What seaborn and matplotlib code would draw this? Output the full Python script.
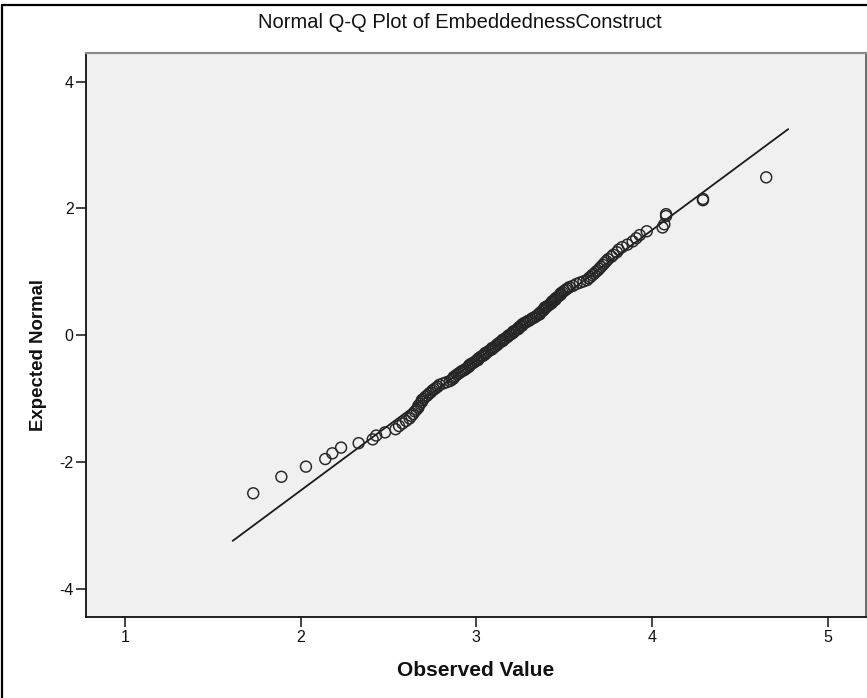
import matplotlib
matplotlib.use("Agg")
import matplotlib.pyplot as plt
import pandas as pd
import seaborn as sns
from matplotlib import font_manager
from matplotlib.lines import Line2D

# ---- data ----
title_text = "Normal Q-Q Plot of EmbeddednessConstruct"
x_label = "Observed Value"
y_label = "Expected Normal"
x_ticks = [1, 2, 3, 4, 5]
y_ticks = [-4, -2, 0, 2, 4]

observed = [
    1.73, 1.89, 2.03, 2.14, 2.18, 2.23, 2.33, 2.41, 2.43, 2.48,
    2.54, 2.56, 2.58, 2.60, 2.62, 2.63, 2.64, 2.65, 2.66, 2.67,
    2.67, 2.68, 2.69, 2.69, 2.70, 2.71, 2.72, 2.73, 2.74, 2.75,
    2.76, 2.77, 2.78, 2.79, 2.81, 2.83, 2.85, 2.86, 2.87, 2.87,
    2.88, 2.89, 2.90, 2.91, 2.92, 2.93, 2.94, 2.95, 2.96, 2.96,
    2.97, 2.98, 2.99, 3.00, 3.01, 3.01, 3.02, 3.03, 3.04, 3.05,
    3.05, 3.06, 3.07, 3.08, 3.09, 3.09, 3.10, 3.11, 3.12, 3.12,
    3.13, 3.14, 3.15, 3.15, 3.16, 3.17, 3.18, 3.18, 3.19, 3.20,
    3.21, 3.21, 3.22, 3.23, 3.24, 3.24, 3.25, 3.26, 3.26, 3.27,
    3.28, 3.29, 3.30, 3.31, 3.32, 3.33, 3.34, 3.35, 3.36, 3.36,
    3.37, 3.38, 3.38, 3.39, 3.39, 3.40, 3.41, 3.42, 3.43, 3.43,
    3.44, 3.45, 3.45, 3.46, 3.47, 3.48, 3.48, 3.49, 3.50, 3.51,
    3.52, 3.53, 3.55, 3.57, 3.59, 3.61, 3.63, 3.64, 3.65, 3.66,
    3.67, 3.68, 3.69, 3.70, 3.71, 3.72, 3.73, 3.74, 3.75, 3.77,
    3.78, 3.80, 3.81, 3.83, 3.86, 3.89, 3.91, 3.93, 3.97, 4.06,
    4.07, 4.08, 4.08, 4.29, 4.29, 4.65,
]

expected = [
    -2.49, -2.23, -2.07, -1.95, -1.86, -1.77, -1.70, -1.64, -1.58, -1.53,
    -1.48, -1.43, -1.39, -1.35, -1.31, -1.27, -1.24, -1.20, -1.17, -1.14,
    -1.11, -1.08, -1.05, -1.02, -1.00, -0.97, -0.95, -0.92, -0.90, -0.87,
    -0.85, -0.83, -0.81, -0.78, -0.76, -0.74, -0.72, -0.70, -0.68, -0.66,
    -0.64, -0.62, -0.60, -0.58, -0.56, -0.55, -0.53, -0.51, -0.49, -0.47,
    -0.45, -0.44, -0.42, -0.40, -0.39, -0.37, -0.35, -0.33, -0.32, -0.30,
    -0.28, -0.27, -0.25, -0.23, -0.22, -0.20, -0.19, -0.17, -0.15, -0.14,
    -0.12, -0.10, -0.09, -0.07, -0.06, -0.04, -0.02, -0.01, 0.01, 0.02,
    0.04, 0.06, 0.07, 0.09, 0.10, 0.12, 0.14, 0.15, 0.17, 0.19,
    0.20, 0.22, 0.23, 0.25, 0.27, 0.28, 0.30, 0.32, 0.33, 0.35,
    0.37, 0.39, 0.40, 0.42, 0.44, 0.45, 0.47, 0.49, 0.51, 0.53,
    0.55, 0.56, 0.58, 0.60, 0.62, 0.64, 0.66, 0.68, 0.70, 0.72,
    0.74, 0.76, 0.78, 0.81, 0.83, 0.85, 0.87, 0.90, 0.92, 0.95,
    0.97, 1.00, 1.02, 1.05, 1.08, 1.11, 1.14, 1.17, 1.20, 1.24,
    1.27, 1.31, 1.35, 1.39, 1.43, 1.48, 1.53, 1.58, 1.64, 1.70,
    1.75, 1.91, 1.88, 2.15, 2.13, 2.49,
]

# reference line (normal distribution fitted to observed values)
line_x = [1.613, 4.775]
line_y = [-3.24, 3.25]

# ---- style ----
sns.set_style("white")
names = {f.name for f in font_manager.fontManager.ttflist}
tick_family = "Liberation Sans Narrow" if "Liberation Sans Narrow" in names else "Liberation Sans"
plt.rcParams["font.family"] = ["Liberation Sans", "DejaVu Sans"]

W, H = 867, 698
fig = plt.figure(figsize=(W / 100, H / 100), dpi=100)
fig.patch.set_facecolor("white")
ax = fig.add_axes([86 / W, 1 - 617 / H, 780 / W, 564 / H])
ax.set_facecolor("#f0f0f0")

df = pd.DataFrame({"Observed": observed, "Expected": expected})
line_df = pd.DataFrame({"x": line_x, "y": line_y})

sns.lineplot(data=line_df, x="x", y="y", estimator=None, sort=False,
             color="#1a1a1a", linewidth=1.3, ax=ax, zorder=2)
sns.scatterplot(data=df, x="Observed", y="Expected", marker="o", s=62,
                facecolors="none", edgecolor="#262626", linewidth=1.05,
                ax=ax, zorder=3)

ax.set_xlim(0.778, 5.218)
ax.set_ylim(-4.44, 4.45)
ax.set_xticks(x_ticks)
ax.set_yticks(y_ticks)
ax.set_xticklabels([str(t) for t in x_ticks], family=tick_family, fontsize=11.5)
ax.set_yticklabels([str(t) for t in y_ticks], family=tick_family, fontsize=11.5)
ax.tick_params(axis="both", which="major", direction="out", length=7,
               width=1.2, color="#222222", pad=2, labelcolor="#111111")
ax.tick_params(top=False, right=False, bottom=True, left=True)

for side in ["left", "bottom"]:
    ax.spines[side].set_color("#111111")
    ax.spines[side].set_linewidth(1.3)
ax.spines["top"].set_color("#8a8a8a")
ax.spines["top"].set_linewidth(1.6)
ax.spines["right"].set_color("#555555")
ax.spines["right"].set_linewidth(1.2)

ax.set_xlabel(x_label, fontsize=15, fontweight="bold", labelpad=12, color="#111111")
ax.set_ylabel(y_label, fontsize=13.4, fontweight="bold", labelpad=0, color="#111111")
ax.yaxis.set_label_coords(-(86 - 47) / 780, (617 - 355) / 564)

fig.text(460 / W, 1 - 22 / H, title_text, ha="center", va="center",
         fontsize=14.5, color="#111111")

# outer frame of the exported chart
fig.add_artist(Line2D([2 / W, 2 / W], [0, 1 - 5 / H], transform=fig.transFigure,
                      color="black", linewidth=1.6))
fig.add_artist(Line2D([2 / W, 1], [1 - 5 / H, 1 - 5 / H], transform=fig.transFigure,
                      color="black", linewidth=1.6))

fig.savefig("out.png", dpi=100)
